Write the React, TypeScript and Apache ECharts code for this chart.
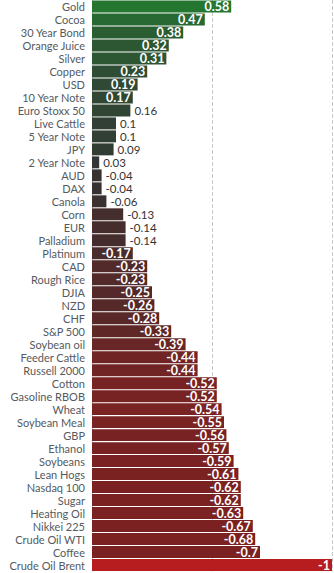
import React, { useEffect, useRef } from "react";
import * as echarts from "echarts";

const categories = [
  "Gold", "Cocoa", "30 Year Bond", "Orange Juice", "Silver", "Copper", "USD", "10 Year Note",
  "Euro Stoxx 50", "Live Cattle", "5 Year Note", "JPY", "2 Year Note", "AUD", "DAX", "Canola",
  "Corn", "EUR", "Palladium", "Platinum", "CAD", "Rough Rice", "DJIA", "NZD", "CHF", "S&P 500",
  "Soybean oil", "Feeder Cattle", "Russell 2000", "Cotton", "Gasoline RBOB", "Wheat",
  "Soybean Meal", "GBP", "Ethanol", "Soybeans", "Lean Hogs", "Nasdaq 100", "Sugar",
  "Heating Oil", "Nikkei 225", "Crude Oil WTI", "Coffee", "Crude Oil Brent",
];

const values = [
  0.58, 0.47, 0.38, 0.32, 0.31, 0.23, 0.19, 0.17,
  0.16, 0.1, 0.1, 0.09, 0.03, -0.04, -0.04, -0.06,
  -0.13, -0.14, -0.14, -0.17, -0.23, -0.23, -0.25, -0.26, -0.28, -0.33,
  -0.39, -0.44, -0.44, -0.52, -0.52, -0.54,
  -0.55, -0.56, -0.57, -0.59, -0.61, -0.62, -0.62,
  -0.63, -0.67, -0.68, -0.7, -1,
];

const axisTicks = [0, 0.5, 1];

// colour stops (value -> rgb)
const colorStops: [number, [number, number, number]][] = [
  [-1, [183, 28, 30]],
  [-0.7, [124, 33, 34]],
  [-0.5, [120, 35, 35]],
  [-0.25, [85, 41, 41]],
  [0, [51, 51, 51]],
  [0.2, [47, 74, 52]],
  [0.4, [43, 95, 51]],
  [0.6, [35, 120, 48]],
];

function rgb(c: number[]) {
  return `rgb(${Math.round(c[0])},${Math.round(c[1])},${Math.round(c[2])})`;
}
function colorFor(v: number): string {
  if (v <= colorStops[0][0]) return rgb(colorStops[0][1]);
  for (let i = 1; i < colorStops.length; i++) {
    const [v1, c1] = colorStops[i];
    const [v0, c0] = colorStops[i - 1];
    if (v <= v1) {
      const t = (v - v0) / (v1 - v0);
      return rgb([0, 1, 2].map((k) => c0[k] + (c1[k] - c0[k]) * t));
    }
  }
  return rgb(colorStops[colorStops.length - 1][1]);
}

export default function App() {
  const ref = useRef<HTMLDivElement>(null);
  useEffect(() => {
    if (!ref.current) return;
    const chart = echarts.init(ref.current, undefined, { renderer: "svg" });
    const data = values.map((v) => {
      const inside = Math.abs(v) >= 0.17;
      return {
        value: Math.abs(v),
        itemStyle: { color: colorFor(v) },
        label: inside
          ? {
              show: true,
              position: "insideRight",
              distance: 2,
              color: "#fff",
              fontWeight: "bold",
              fontSize: 12.5,
              fontFamily: "Lato",
              formatter: String(v),
            }
          : {
              show: true,
              position: "right",
              distance: 4,
              color: "#333",
              fontWeight: "normal",
              fontSize: 11.5,
              fontFamily: "Lato",
              formatter: String(v),
            },
      };
    });
    chart.setOption({
      animation: false,
      grid: { left: 92, right: 2, top: -0.5, bottom: 1.5, containLabel: false },
      xAxis: {
        type: "value",
        min: axisTicks[0],
        max: axisTicks[axisTicks.length - 1],
        interval: axisTicks[1] - axisTicks[0],
        axisLabel: { show: false },
        axisLine: { show: false },
        axisTick: { show: false },
        splitLine: { show: true, lineStyle: { type: "dashed", color: "#c8c8d0", width: 1 } },
      },
      yAxis: {
        type: "category",
        inverse: true,
        data: categories,
        axisLine: { show: false },
        axisTick: { show: false },
        axisLabel: { color: "#555a60", fontSize: 11, fontFamily: "Lato", margin: 7, interval: 0 },
      },
      series: [
        {
          type: "bar",
          data,
          barCategoryGap: "8%",
        },
      ],
    });
    return () => chart.dispose();
  }, []);
  return <div ref={ref} style={{ width: 334, height: 573, position: "absolute", left: 0, top: 0 }} />;
}
